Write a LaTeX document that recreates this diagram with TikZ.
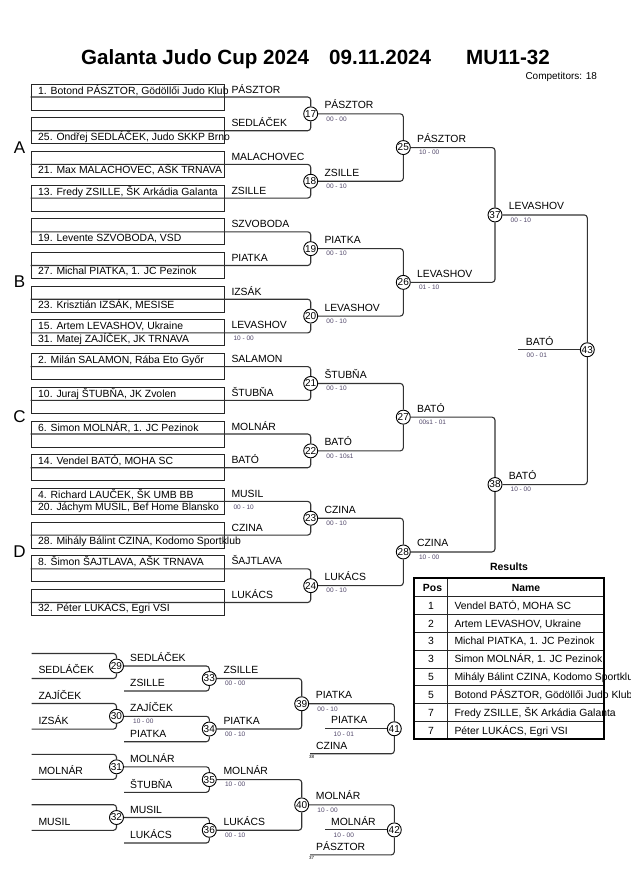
\documentclass[tikz,border=0pt]{standalone}
\usepackage{fontspec}
\setmainfont{Liberation Sans}
\definecolor{scoreblue}{RGB}{80,70,105}
\begin{document}
\begin{tikzpicture}[x=1pt,y=-1pt,
  br/.style={draw=black!80, line width=1.1pt, rounded corners=3pt},
  slotbox/.style={draw=black!85, line width=0.9pt, minimum width=193pt, minimum height=26pt, inner sep=0pt},
  mc/.style={circle, draw=black, line width=0.9pt, fill=white, minimum size=14pt, inner sep=0pt, font=\fontsize{10}{10}\selectfont},
  nm/.style={anchor=base west, inner sep=0pt, font=\fontsize{10.4}{12}\selectfont},
  sc/.style={anchor=base west, inner sep=0pt, font=\fontsize{6.5}{7}\selectfont, text=scoreblue},
  tiny/.style={anchor=base west, inner sep=0pt, font=\fontsize{4.5}{5}\selectfont},
  grp/.style={anchor=base, inner sep=0pt, font=\fontsize{17}{17}\selectfont},
  ttl/.style={anchor=base west, inner sep=0pt, font=\fontsize{20.6}{22}\selectfont\bfseries},
  tline/.style={line width=0.9pt, black!85},
]
\useasboundingbox (0,0) rectangle (630,891);

% title
\node[ttl] (t1) at (81,64.5) {Galanta Judo Cup 2024};
\node[ttl] (t2) at (329,64.5) {09.11.2024};
\node[ttl] (t3) at (466,64.5) {MU11-32};
\node[anchor=base west, inner sep=0pt, font=\fontsize{10}{10}\selectfont] (comp) at (525.3,79.3) {Competitors: 18};

% group letters
\node[grp] (gA) at (19.5,153.3) {A};
\node[grp] (gB) at (19.5,287.9) {B};
\node[grp] (gC) at (19.5,422.5) {C};
\node[grp] (gD) at (19.5,557.1) {D};

% slot boxes
\foreach \i/\y in {1/97,2/130.7,3/164.4,4/198.1,5/231.8,6/265.5,7/299.2,8/332.9,9/366.6,10/400.3,11/434,12/467.7,13/501.4,14/535.1,15/568.8,16/602.5}
  \node[slotbox] (b\i) at (127.5,\y) {};

% match circles main
\node[mc] (m17) at (310.7,113.85) {17};
\node[mc] (m18) at (310.7,181.25) {18};
\node[mc] (m19) at (310.7,248.65) {19};
\node[mc] (m20) at (310.7,316.05) {20};
\node[mc] (m21) at (310.7,383.45) {21};
\node[mc] (m22) at (310.7,450.85) {22};
\node[mc] (m23) at (310.7,518.25) {23};
\node[mc] (m24) at (310.7,585.65) {24};
\node[mc] (m25) at (403.3,147.55) {25};
\node[mc] (m26) at (403.3,282.35) {26};
\node[mc] (m27) at (403.3,417.15) {27};
\node[mc] (m28) at (403.3,551.95) {28};
\node[mc] (m37) at (495,214.95) {37};
\node[mc] (m38) at (495,484.55) {38};
\node[mc] (m43) at (587.3,349.75) {43};
\coordinate (f43) at (518.3,349.75);

% round 1 connectors
\foreach \a/\b/\m in {1/2/17,3/4/18,5/6/19,7/8/20,9/10/21,11/12/22,13/14/23,15/16/24}{
  \draw[br] (b\a.west) -| (m\m.north);
  \draw[br] (b\b.west) -| (m\m.south);
}
% later rounds
\foreach \a/\b/\m in {17/18/25,19/20/26,21/22/27,23/24/28,25/26/37,27/28/38,37/38/43}{
  \draw[br] (m\a.east) -| (m\m.north);
  \draw[br] (m\b.east) -| (m\m.south);
}
\draw[br] (f43) -- (m43.west);

% seed texts
\node[nm] (n1) at (38,94.5) {1. Botond PÁSZTOR, Gödöllői Judo Klub};
\node[nm] (n25) at (38,140) {25. Ondřej SEDLÁČEK, Judo SKKP Brno};
\node[nm] (n21) at (38,173.7) {21. Max MALACHOVEC, AŠK TRNAVA};
\node[nm] (n13) at (38,195.4) {13. Fredy ZSILLE, ŠK Arkádia Galanta};
\node[nm] (n19) at (38,241.1) {19. Levente SZVOBODA, VSD};
\node[nm] (n27) at (38,274.8) {27. Michal PIATKA, 1. JC Pezinok};
\node[nm] (n23) at (38,308.5) {23. Krisztián IZSÁK, MESISE};
\node[nm] (n15) at (38,329.9) {15. Artem LEVASHOV, Ukraine};
\node[nm] (n31) at (38,342.2) {31. Matej ZAJÍČEK, JK TRNAVA};
\node[nm] (n2) at (38,363.6) {2. Milán SALAMON, Rába Eto Győr};
\node[nm] (n10) at (38,397.3) {10. Juraj ŠTUBŇA, JK Zvolen};
\node[nm] (n6) at (38,431) {6. Simon MOLNÁR, 1. JC Pezinok};
\node[nm] (n14) at (38,464.7) {14. Vendel BATÓ, MOHA SC};
\node[nm] (n4) at (38,498.4) {4. Richard LAUČEK, ŠK UMB BB};
\node[nm] (n20) at (38,510.7) {20. Jáchym MUSIL, Bef Home Blansko};
\node[nm] (n28) at (38,544.4) {28. Mihály Bálint CZINA, Kodomo Sportklub};
\node[nm] (n8) at (38,565.8) {8. Šimon ŠAJTLAVA, AŠK TRNAVA};
\node[nm] (n32) at (38,611.8) {32. Péter LUKÁCS, Egri VSI};

% right labels round 1
\foreach \y/\t in {93/PÁSZTOR,126.7/SEDLÁČEK,160.4/MALACHOVEC,194.1/ZSILLE,227.8/SZVOBODA,261.5/PIATKA,295.2/IZSÁK,328.9/LEVASHOV,362.6/SALAMON,396.3/ŠTUBŇA,430/MOLNÁR,463.7/BATÓ,497.4/MUSIL,531.1/CZINA,564.8/ŠAJTLAVA,598.5/LUKÁCS}
  \node[nm] at (231.3,\y) {\t};
\node[sc] (s8) at (233.3,340.6) {10 - 00};
\node[sc] (s13) at (233.3,509.1) {00 - 10};

% winner labels and scores
\foreach \m/\t/\s in {17/PÁSZTOR/00 - 00,18/ZSILLE/00 - 10,19/PIATKA/00 - 10,20/LEVASHOV/00 - 10,21/ŠTUBŇA/00 - 10,22/BATÓ/00 - 10s1,23/CZINA/00 - 10,24/LUKÁCS/00 - 10,25/PÁSZTOR/10 - 00,26/LEVASHOV/01 - 10,27/BATÓ/00s1 - 01,28/CZINA/10 - 00,37/LEVASHOV/00 - 10,38/BATÓ/10 - 00}{
  \node[nm] at ([xshift=13.6pt,yshift=5pt]m\m.center) {\t};
  \node[sc] at ([xshift=15.5pt,yshift=-7.3pt]m\m.center) {\s};
}
\node[nm] (l43) at (525.7,345) {BATÓ};
\node[sc] (s43) at (526.5,357) {00 - 01};

% ===== repechage =====
\node[mc] (m29) at (116.5,666) {29};
\node[mc] (m30) at (116.5,716.3) {30};
\node[mc] (m31) at (116.5,766.8) {31};
\node[mc] (m32) at (116.5,817.5) {32};
\node[mc] (m33) at (209.3,678.5) {33};
\node[mc] (m34) at (209.3,729) {34};
\node[mc] (m35) at (209.3,779.55) {35};
\node[mc] (m36) at (209.3,830.25) {36};
\node[mc] (m39) at (301.7,703.75) {39};
\node[mc] (m40) at (301.7,804.9) {40};
\node[mc] (m41) at (394.3,728.75) {41};
\node[mc] (m42) at (394.3,829.9) {42};

\coordinate (r29a) at (31.7,653.5);
\coordinate (r29b) at (31.7,678.5);
\coordinate (r30a) at (31.7,703.5);
\coordinate (r30b) at (31.7,729.1);
\coordinate (r31a) at (31.7,754.3);
\coordinate (r31b) at (31.7,779.3);
\coordinate (r32a) at (31.7,804.7);
\coordinate (r32b) at (31.7,830.3);
\coordinate (r33b) at (124,691);
\coordinate (r34b) at (124,741.7);
\coordinate (r35b) at (124,792.3);
\coordinate (r36b) at (124,843);
\coordinate (r41b) at (310,753.75);
\coordinate (r41m) at (325,728.75);
\coordinate (r42b) at (310,854.9);
\coordinate (r42m) at (325,829.9);

\foreach \m in {29,30,31,32}{
  \draw[br] (r\m a) -| (m\m.north);
  \draw[br] (r\m b) -| (m\m.south);
}
\foreach \a/\m in {29/33,30/34,31/35,32/36}{
  \draw[br] (m\a.east) -| (m\m.north);
  \draw[br] (r\m b) -| (m\m.south);
}
\foreach \a/\b/\m in {33/34/39,35/36/40}{
  \draw[br] (m\a.east) -| (m\m.north);
  \draw[br] (m\b.east) -| (m\m.south);
}
\foreach \a/\m in {39/41,40/42}{
  \draw[br] (m\a.east) -| (m\m.north);
  \draw[br] (r\m b) -| (m\m.south);
  \draw[br] (r\m m) -- (m\m.west);
}

% repechage labels
\node[nm] at (38.3,673.5) {SEDLÁČEK};
\node[nm] at (38.3,699) {ZAJÍČEK};
\node[nm] at (38.3,724.5) {IZSÁK};
\node[nm] at (38.3,774.8) {MOLNÁR};
\node[nm] at (38.3,825.5) {MUSIL};

\node[nm] at (130,661.7) {SEDLÁČEK};
\node[nm] at (130,686.7) {ZSILLE};
\node[nm] at (130,711.7) {ZAJÍČEK};
\node[sc] at (133,723.5) {10 - 00};
\node[nm] at (130,737.5) {PIATKA};
\node[nm] at (130,762.5) {MOLNÁR};
\node[nm] at (130,788) {ŠTUBŇA};
\node[nm] at (130,813) {MUSIL};
\node[nm] at (130,838.5) {LUKÁCS};

\foreach \m/\t/\s in {33/ZSILLE/00 - 00,34/PIATKA/00 - 10,35/MOLNÁR/10 - 00,36/LUKÁCS/00 - 10,39/PIATKA/00 - 10,40/MOLNÁR/10 - 00}{
  \node[nm] at ([xshift=14pt,yshift=5pt]m\m.center) {\t};
  \node[sc] at ([xshift=15.5pt,yshift=-7.3pt]m\m.center) {\s};
}
\node[nm] at (331,723.5) {PIATKA};
\node[sc] at (333.5,736.5) {10 - 01};
\node[nm] at (316,749.5) {CZINA};
\node[tiny] at (309,758.5) {38};
\node[nm] at (331,825) {MOLNÁR};
\node[sc] at (333.5,837.5) {10 - 00};
\node[nm] at (316,850.5) {PÁSZTOR};
\node[tiny] at (309,859.5) {37};

% ===== results =====
\node[anchor=base, inner sep=0pt, font=\fontsize{10.5}{12}\selectfont\bfseries] (rt) at (509,570) {Results};
\draw[tline] (414.3,596.7) -- (604.3,596.7);
\foreach \y in {614.5,632.35,650.2,668.0,685.8,703.65,721.5}
  \draw[tline] (414.3,\y) -- (604.3,\y);
\draw[tline] (447.7,578.3) -- (447.7,739.3);
\draw[line width=2pt] (414.3,578.3) rectangle (604.3,739.3);
\node[anchor=base, inner sep=0pt, font=\fontsize{10.4}{12}\selectfont\bfseries] at (432.5,591.7) {Pos};
\node[anchor=base, inner sep=0pt, font=\fontsize{10.4}{12}\selectfont\bfseries] at (526,591.7) {Name};
\foreach \y/\p/\t in {609.2/1/{Vendel BATÓ, MOHA SC},627/2/{Artem LEVASHOV, Ukraine},644.9/3/{Michal PIATKA, 1. JC Pezinok},662.7/3/{Simon MOLNÁR, 1. JC Pezinok},680.5/5/{Mihály Bálint CZINA, Kodomo Sportklub},698.3/5/{Botond PÁSZTOR, Gödöllői Judo Klub},716.2/7/{Fredy ZSILLE, ŠK Arkádia Galanta},734/7/{Péter LUKÁCS, Egri VSI}}{
  \node[anchor=base, inner sep=0pt, font=\fontsize{10.4}{12}\selectfont] at (431,\y) {\p};
  \node[nm] at (454.3,\y) {\t};
}
\end{tikzpicture}
\end{document}
